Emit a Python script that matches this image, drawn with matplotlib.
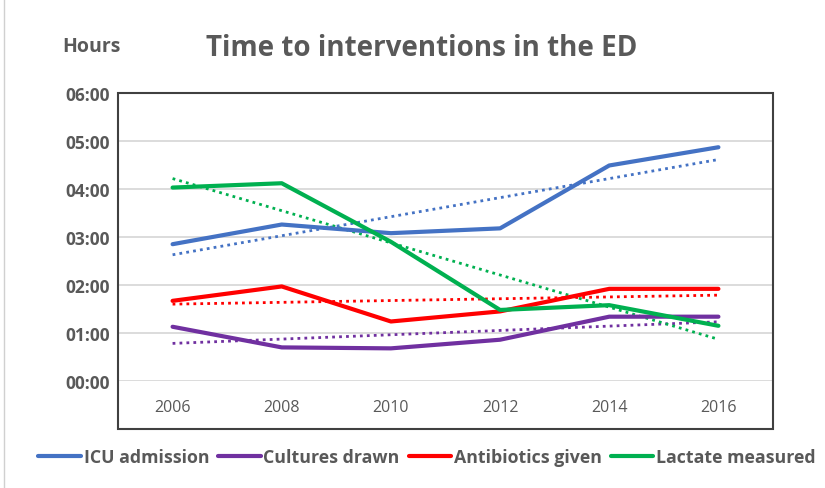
#!/usr/bin/env python
'''Time to interventions in the ED - line chart with linear trends'''

import matplotlib
matplotlib.use('Agg')
import matplotlib.pyplot as plt
from matplotlib.patches import Rectangle
from matplotlib.lines import Line2D
import numpy as np

years = ['2006', '2008', '2010', '2012', '2014', '2016']
series_names = ['ICU admission', 'Cultures drawn', 'Antibiotics given', 'Lactate measured']

# hours
icu_admission = [2.85, 3.26, 3.08, 3.18, 4.49, 4.87]
cultures_drawn = [1.13, 0.70, 0.68, 0.86, 1.34, 1.34]
antibiotics_given = [1.67, 1.97, 1.24, 1.45, 1.92, 1.92]
lactate_measured = [4.03, 4.12, 2.90, 1.48, 1.58, 1.15]

y_ticks = [0, 1, 2, 3, 4, 5, 6]
y_tick_labels = ['00:00', '01:00', '02:00', '03:00', '04:00', '05:00', '06:00']

colors = ['#4472C4', '#7030A0', '#FF0000', '#00B050']
grey = '#595959'

plt.rcParams['font.family'] = ['Open Sans', 'DejaVu Sans']

fig = plt.figure(figsize=(8.25, 4.89), dpi=100)
ax = fig.add_axes([118/825, 1-382/489, (773-118)/825, (382-94)/489])

x = np.arange(len(years))
all_series = [icu_admission, cultures_drawn, antibiotics_given, lactate_measured]

for vals, col, name in zip(all_series, colors, series_names):
    ax.plot(x, vals, color=col, lw=3.0, solid_capstyle='round', zorder=3, label=name)
    # linear trendline
    k, n = np.polyfit(x, vals, 1)
    ax.plot(x, k*x + n, color=col, lw=2.0, ls=(0, (1, 1.5)), zorder=2)

ax.set_xlim(-0.5, len(years) - 0.5)
ax.set_ylim(0, 6)
ax.set_yticks(y_ticks)
ax.set_yticklabels(y_tick_labels, fontsize=12.5, fontweight='bold', color=grey)
ax.set_xticks(x)
ax.set_xticklabels(years, fontsize=11.5, color=grey)
ax.tick_params(axis='both', length=0)
ax.tick_params(axis='y', pad=6)
ax.tick_params(axis='x', pad=13)
ax.yaxis.grid(True, color='#D9D9D9', lw=1.3)
ax.set_axisbelow(True)
for s in ax.spines.values():
    s.set_visible(False)

# border around plot area incl. category labels
box = Rectangle((118/825, 1-430/489), (773-118)/825, (430-94)/489,
                transform=fig.transFigure, fill=False, edgecolor='#404040', lw=1.5)
fig.patches.append(box)
fig.add_artist(Line2D([4/825, 4/825], [0, 1], color='#D0D0D0', lw=1))

fig.text(62/825, 1-47/489, 'Hours', fontsize=14, fontweight='bold', color=grey,
         ha='left', va='center')
fig.text(422/825, 1-48/489, 'Time to interventions in the ED', fontsize=20,
         fontweight='bold', color=grey, ha='center', va='center')

handles = [Line2D([], [], color=c, lw=3.0, solid_capstyle='round') for c in colors]
fig.legend(handles, series_names, loc='center', bbox_to_anchor=(427/825, 1-458/489),
           ncol=4, frameon=False, handlelength=2.4, handletextpad=0.15,
           columnspacing=0.5, prop={'size': 12.8, 'weight': 'bold'}, labelcolor=grey)

fig.savefig('out.png', dpi=100)
